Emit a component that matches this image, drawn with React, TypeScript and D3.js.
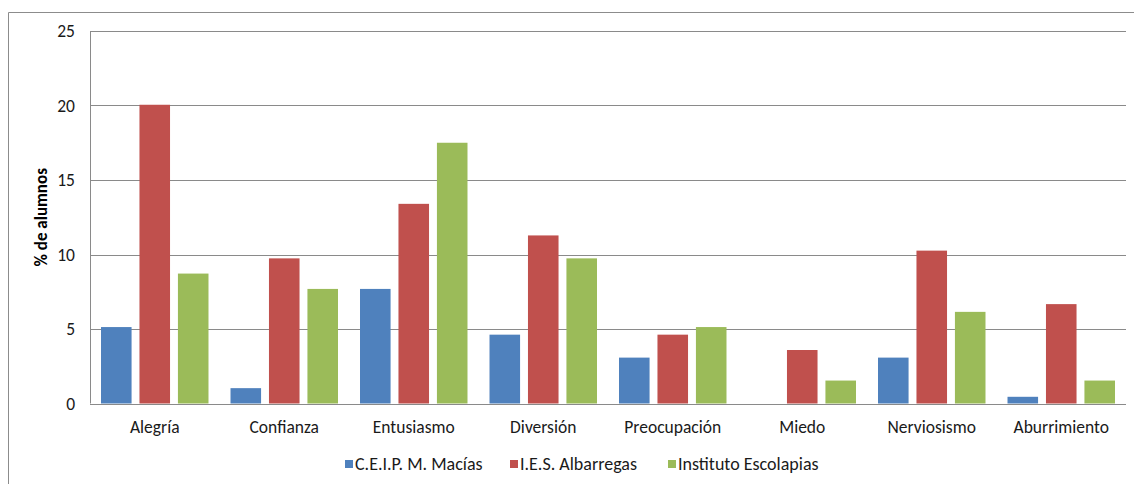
import React from "react";
import * as d3 from "d3";

const categories = [
  "Alegría",
  "Confianza",
  "Entusiasmo",
  "Diversión",
  "Preocupación",
  "Miedo",
  "Nerviosismo",
  "Aburrimiento",
];

const seriesNames = ["C.E.I.P. M. Macías", "I.E.S. Albarregas", "Instituto Escolapias"];

const ceipMacias = [5.13, 1.03, 7.69, 4.62, 3.08, 0, 3.08, 0.45];
const iesAlbarregas = [20.05, 9.74, 13.4, 11.28, 4.62, 3.59, 10.26, 6.67];
const institutoEscolapias = [8.72, 7.69, 17.5, 9.74, 5.13, 1.54, 6.15, 1.54];

const yTicks = [0, 5, 10, 15, 20, 25];

const seriesColors = ["#4F81BD", "#C0504D", "#9BBB59"];

const W = 1134;
const H = 484;
const plot = { left: 90, right: 1126, top: 31, bottom: 403.5 };
const FONT = "Carlito, Calibri, 'Liberation Sans', Arial, sans-serif";

export default function App() {
  const allSeries = [ceipMacias, iesAlbarregas, institutoEscolapias];

  const x0 = d3.scaleBand<string>().domain(categories).range([plot.left, plot.right]).paddingInner(0).paddingOuter(0);
  const catW = x0.bandwidth();
  const barW = catW * 0.236;
  const barGap = catW * 0.061;
  const groupW = barW * 3 + barGap * 2;

  const y = d3.scaleLinear().domain([0, 25]).range([plot.bottom, plot.top]);

  const legendItems = [
    { x: 345, textX: 355 },
    { x: 510, textX: 520 },
    { x: 668, textX: 678 },
  ];

  return (
    <svg
      width={W}
      height={H}
      style={{ position: "absolute", left: 0, top: 0, background: "#fff" }}
      fontFamily={FONT}
    >
      <rect x={0} y={0} width={W} height={H} fill="#fff" />
      {/* outer frame */}
      <path d={`M8.5,${H} V12.5 H${W}`} fill="none" stroke="#8c8c8c" strokeWidth={1} />

      {/* gridlines */}
      {yTicks.map((t) => (
        <line
          key={t}
          x1={plot.left}
          x2={plot.right}
          y1={Math.round(y(t)) + 0.5}
          y2={Math.round(y(t)) + 0.5}
          stroke="#8a8a8a"
          strokeWidth={1}
        />
      ))}
      {/* value axis line */}
      <line x1={plot.left + 0.5} x2={plot.left + 0.5} y1={y(25)} y2={y(0)} stroke="#8a8a8a" />

      {/* bars */}
      {allSeries.map((vals, si) =>
        vals.map((v, ci) => {
          const cx = (x0(categories[ci]) as number) + catW / 2;
          const bx = cx - groupW / 2 + si * (barW + barGap);
          return (
            <rect
              key={`${si}-${ci}`}
              x={bx}
              y={y(v)}
              width={barW}
              height={y(0) - y(v)}
              fill={seriesColors[si]}
            />
          );
        })
      )}

      {/* y tick labels */}
      {yTicks.map((t) => (
        <text
          key={t}
          x={75}
          y={y(t)}
          dy="0.35em"
          textAnchor="end"
          fontSize={17.5}
          fill="#1a1a1a"
        >
          {t}
        </text>
      ))}

      {/* category labels */}
      {categories.map((c) => (
        <text
          key={c}
          x={(x0(c) as number) + catW / 2}
          y={433}
          textAnchor="middle"
          fontSize={17.5}
          fill="#1a1a1a"
        >
          {c}
        </text>
      ))}

      {/* y axis title */}
      <text
        transform={`translate(47,${(plot.top + plot.bottom) / 2}) rotate(-90)`}
        textAnchor="middle"
        fontSize={17}
        fontWeight="bold"
        fill="#000"
      >
        % de alumnos
      </text>

      {/* legend */}
      {seriesNames.map((name, i) => (
        <g key={name}>
          <rect x={legendItems[i].x} y={460} width={8} height={8} fill={seriesColors[i]} />
          <text x={legendItems[i].textX} y={470} fontSize={18} fill="#1a1a1a">
            {name}
          </text>
        </g>
      ))}
    </svg>
  );
}
